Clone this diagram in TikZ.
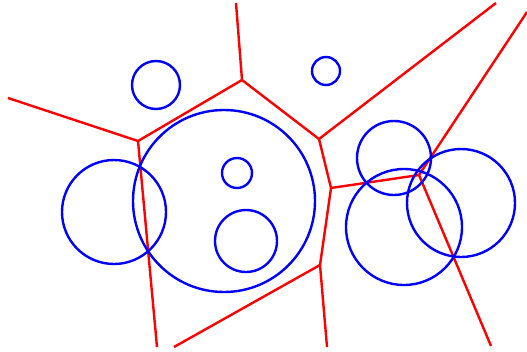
\documentclass[tikz,border=0pt]{standalone}
\usepackage{tikz}

\tikzset{
  edge/.style={red, line width=2.4pt},
  site/.style={blue, line width=2.4pt}
}

\begin{document}
\begin{tikzpicture}[x=1pt, y=-1pt]
    \useasboundingbox (0,0) rectangle (527,351);
    % voronoi vertices
    \coordinate (va) at (138,141);
    \coordinate (vb) at (242,80);
    \coordinate (vc) at (319,139);
    \coordinate (vd) at (331,188);
    \coordinate (ve) at (419,175);
    \coordinate (vf) at (320,265);
    % edges
    \draw[edge] (8,98) -- (va) -- (vb) -- (236,3);
    \draw[edge] (vb) -- (vc) -- (496,3);
    \draw[edge] (vc) -- (vd) -- (ve) -- (527,12);
    \draw[edge] (ve) -- (491,346);
    \draw[edge] (vd) -- (vf) -- (327,347);
    \draw[edge] (vf) -- (174,347);
    \draw[edge] (va) -- (157,347);
    % circles
    \draw[site] (156,85) circle[radius=24];
    \draw[site] (224,201) circle[radius=91];
    \draw[site] (237,173) circle[radius=15];
    \draw[site] (246,241) circle[radius=31];
    \draw[site] (114,212) circle[radius=52];
    \draw[site] (326,71) circle[radius=14];
    \draw[site] (394,158) circle[radius=37];
    \draw[site] (404,227) circle[radius=58];
    \draw[site] (461,203) circle[radius=54];
\end{tikzpicture}
\end{document}
